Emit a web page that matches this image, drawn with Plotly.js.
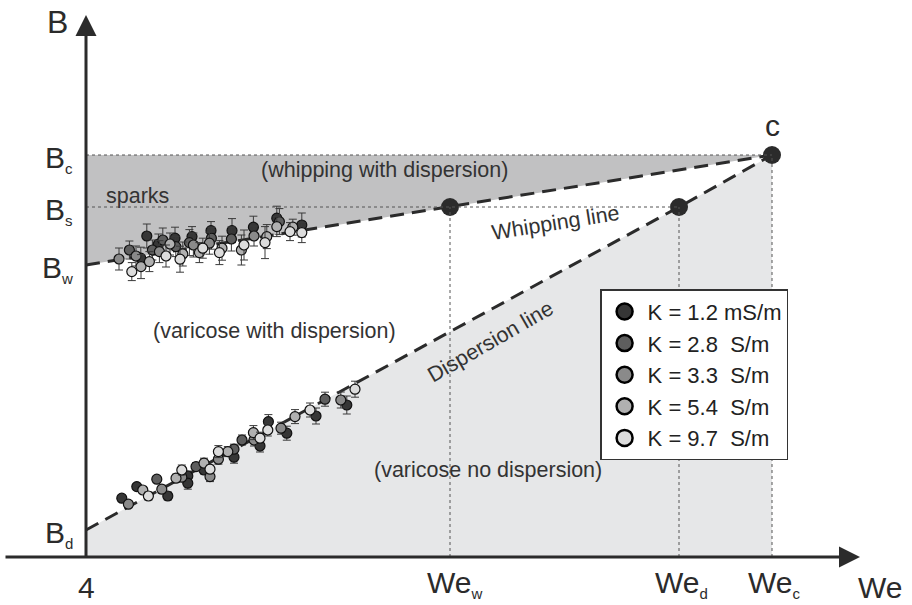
<!DOCTYPE html>
<html>
<head>
<meta charset="utf-8">
<script src="https://cdn.plot.ly/plotly-3.0.1.min.js"></script>
<style>
  html, body { margin: 0; padding: 0; background: #ffffff; }
  #chart { width: 912px; height: 605px; }
</style>
</head>
<body>
<div id="chart"></div>
<script>
// Characteristic Weber numbers (We) and B values of the regime map
const WE_0 = 4;
const WE_W = 22.2;
const WE_D = 33.65;
const WE_C = 38.3;
const B_D = 1.35;
const B_W = 14.6;
const B_S = 17.5;
const B_C = 20.1;

// Conductivity series
const seriesNames = ['K = 1.2 mS/m', 'K = 2.8 \u00a0S/m', 'K = 3.3 \u00a0S/m', 'K = 5.4 \u00a0S/m', 'K = 9.7 \u00a0S/m'];
const seriesColors = ['#363636', '#5e5e5e', '#8a8a8a', '#b0b0b0', '#dcdcdc'];

// Whipping-branch measurements (We, B, error)
const whipWe = [
  [6.74, 7.04, 7.62, 8.45, 9.3, 10.25, 11.3, 12.37, 13.54, 14.79],
  [6.17, 7.32, 7.84, 8.49, 9.17, 10.27, 11.27, 13.67],
  [5.65, 6.5, 7.67, 9.37, 10.17, 12.4],
  [6.75, 7.17, 8.2, 8.84, 9.67, 10.8, 11.77, 13.04, 13.54, 14.34],
  [6.29, 8.0, 8.7, 9.84, 10.67, 11.9, 12.95, 14.2, 14.79]
];
const whipB = [
  [14.94, 16.05, 15.65, 15.94, 16.02, 16.32, 16.32, 16.49, 16.94, 16.6],
  [15.35, 15.35, 15.85, 15.52, 15.72, 15.94, 15.9, 16.77],
  [14.9, 15.05, 15.27, 15.6, 15.69, 16.05],
  [14.52, 14.77, 15.65, 15.15, 15.22, 15.44, 15.35, 16.02, 16.52, 16.49],
  [14.27, 15.05, 14.89, 15.44, 15.22, 15.6, 15.72, 16.27, 16.22]
];
const whipErr = [
  [0.55, 0.6, 0.5, 0.55, 0.5, 0.45, 0.6, 0.55, 0.6, 0.6],
  [0.45, 0.5, 0.6, 0.5, 0.65, 0.55, 0.6, 0.65],
  [0.55, 0.5, 0.55, 0.6, 0.55, 0.5],
  [0.6, 0.5, 0.55, 0.6, 0.5, 0.6, 0.75, 0.6, 0.5, 0.4],
  [0.45, 0.55, 0.65, 0.5, 0.6, 0.75, 0.8, 0.45, 0.5]
];

// Dispersion-branch measurements (We, B, error)
const dispWe = [
  [5.79, 6.54, 8.09, 9.09, 9.09, 9.9, 11.4, 12.7, 13.12, 14.04, 15.5, 17.04],
  [7.54, 9.5, 11.4, 11.8, 15.95],
  [6.12, 7.79, 8.79, 10.2, 10.62, 12.4, 13.75, 16.74],
  [6.84, 8.5, 9.9, 11.09, 12.37, 14.45],
  [7.12, 8.79, 10.2, 10.62, 12.7, 13.09, 15.2, 17.45]
];
const dispB = [
  [2.94, 3.52, 3.05, 4.05, 3.69, 4.35, 4.99, 5.55, 6.77, 6.19, 7.05, 7.6],
  [3.89, 4.52, 5.39, 5.85, 7.89],
  [2.64, 3.39, 3.99, 4.02, 4.89, 5.85, 6.44, 7.85],
  [3.35, 3.94, 4.69, 5.27, 6.22, 7.02],
  [3.05, 4.35, 4.39, 5.27, 5.94, 6.35, 7.35, 8.39]
];
const dispErr = [
  [0.15, 0.15, 0.2, 0.25, 0.3, 0.2, 0.3, 0.3, 0.35, 0.35, 0.4, 0.45],
  [0.15, 0.2, 0.25, 0.25, 0.35],
  [0.15, 0.2, 0.2, 0.25, 0.25, 0.3, 0.3, 0.4],
  [0.15, 0.2, 0.25, 0.25, 0.35, 0.35],
  [0.2, 0.25, 0.2, 0.3, 0.3, 0.3, 0.35, 0.4]
];

const INK = '#2b2b2b';
const FONT = '"Liberation Sans", Arial, Helvetica, sans-serif';

const traces = [];

// Shaded regimes
traces.push({
  x: [WE_0, WE_D, WE_C, WE_C, WE_0],
  y: [B_D, B_S, B_C, 0, 0],
  mode: 'lines', fill: 'toself', fillcolor: '#e6e7e8',
  line: { width: 0 }, showlegend: false, hoverinfo: 'skip'
});
traces.push({
  x: [WE_0, WE_C, WE_W, WE_0],
  y: [B_C, B_C, B_S, B_W],
  mode: 'lines', fill: 'toself', fillcolor: '#c1c1c2',
  line: { width: 0 }, showlegend: false, hoverinfo: 'skip'
});

// Whipping and dispersion lines
traces.push({
  x: [WE_0, WE_W, WE_C], y: [B_W, B_S, B_C],
  mode: 'lines', line: { color: INK, width: 3, dash: '14px,8px' },
  showlegend: false, hoverinfo: 'skip'
});
traces.push({
  x: [WE_0, WE_D, WE_C], y: [B_D, B_S, B_C],
  mode: 'lines', line: { color: INK, width: 3, dash: '14px,8px' },
  showlegend: false, hoverinfo: 'skip'
});

// Measured points with error bars
for (let i = 0; i < seriesNames.length; i++) {
  traces.push({
    x: whipWe[i].concat(dispWe[i]),
    y: whipB[i].concat(dispB[i]),
    mode: 'markers',
    name: seriesNames[i],
    showlegend: false,
    error_y: { type: 'data', array: whipErr[i].concat(dispErr[i]), color: '#3a3a3a', thickness: 1, width: 4 },
    marker: { size: 10, color: seriesColors[i], line: { color: '#111111', width: 1.2 } }
  });
}

// Characteristic points
traces.push({
  x: [WE_W, WE_D, WE_C], y: [B_S, B_S, B_C],
  mode: 'markers', marker: { size: 18, color: INK },
  showlegend: false, hoverinfo: 'skip'
});

// Legend entries
for (let i = 0; i < seriesNames.length; i++) {
  traces.push({
    x: [null], y: [null], mode: 'markers', name: seriesNames[i],
    legendgroup: 'g' + i,
    marker: { size: 16, color: seriesColors[i], line: { color: '#000000', width: 2.5 } }
  });
}

const dotted = { color: '#555555', width: 1, dash: 'dot' };
const shapes = [
  { type: 'line', xref: 'x', yref: 'y', x0: WE_0, x1: WE_C, y0: B_C, y1: B_C, line: dotted, layer: 'above' },
  { type: 'line', xref: 'x', yref: 'y', x0: WE_0, x1: WE_D, y0: B_S, y1: B_S, line: dotted, layer: 'above' },
  { type: 'line', xref: 'x', yref: 'y', x0: WE_W, x1: WE_W, y0: 0, y1: B_S, line: dotted, layer: 'above' },
  { type: 'line', xref: 'x', yref: 'y', x0: WE_D, x1: WE_D, y0: 0, y1: B_S, line: dotted, layer: 'above' },
  { type: 'line', xref: 'x', yref: 'y', x0: WE_C, x1: WE_C, y0: 0, y1: B_C, line: dotted, layer: 'above' }
];

function sub(main, s) {
  return main + '<sub><span style="font-size:15px">' + s + '</span></sub>';
}

const big = { family: FONT, size: 30, color: INK };
const mid = { family: FONT, size: 21.5, color: '#333333' };

const annotations = [
  // axes with arrowheads
  { x: 42.7, y: 0, ax: -0.1, ay: 0, xref: 'x', yref: 'y', axref: 'x', ayref: 'y',
    text: '', showarrow: true, arrowhead: 2, arrowsize: 1.4, arrowwidth: 3, arrowcolor: INK },
  { x: WE_0, y: 27.1, ax: WE_0, ay: -0.05, xref: 'x', yref: 'y', axref: 'x', ayref: 'y',
    text: '', showarrow: true, arrowhead: 2, arrowsize: 1.4, arrowwidth: 3, arrowcolor: INK },

  // axis labels
  { x: 2.55, y: 26.75, xref: 'x', yref: 'y', text: 'B', showarrow: false, font: { family: FONT, size: 32, color: INK } },
  { x: 43.7, y: -1.5, xref: 'x', yref: 'y', text: 'We', showarrow: false, font: { family: FONT, size: 30, color: INK } },

  // We ticks
  { x: WE_0, y: -1.5, xref: 'x', yref: 'y', text: '4', showarrow: false, font: big },
  { x: WE_W, y: -1.5, xref: 'x', yref: 'y', text: sub('We', 'w'), showarrow: false, font: big, xshift: 4, yshift: 3 },
  { x: WE_D, y: -1.5, xref: 'x', yref: 'y', text: sub('We', 'd'), showarrow: false, font: big, xshift: 2, yshift: 3 },
  { x: WE_C, y: -1.5, xref: 'x', yref: 'y', text: sub('We', 'c'), showarrow: false, font: big, xshift: 2, yshift: 3 },

  // B ticks
  { x: WE_0, y: B_C, xref: 'x', yref: 'y', text: sub('B', 'c'), showarrow: false, font: big, xanchor: 'right', xshift: -11, yshift: -4 },
  { x: WE_0, y: B_S, xref: 'x', yref: 'y', text: sub('B', 's'), showarrow: false, font: big, xanchor: 'right', xshift: -11, yshift: -4 },
  { x: WE_0, y: B_W, xref: 'x', yref: 'y', text: sub('B', 'w'), showarrow: false, font: big, xanchor: 'right', xshift: -11, yshift: -4 },
  { x: WE_0, y: B_D, xref: 'x', yref: 'y', text: sub('B', 'd'), showarrow: false, font: big, xanchor: 'right', xshift: -11, yshift: -4 },

  // critical point
  { x: WE_C, y: B_C, xref: 'x', yref: 'y', text: 'c', showarrow: false, font: { family: FONT, size: 30, color: INK }, yshift: 30 },

  // regime labels
  { x: 18.9, y: 19.35, xref: 'x', yref: 'y', text: '(whipping with dispersion)', showarrow: false, font: mid },
  { x: 6.55, y: 18.05, xref: 'x', yref: 'y', text: 'sparks', showarrow: false, font: mid },
  { x: 13.4, y: 11.3, xref: 'x', yref: 'y', text: '(varicose with dispersion)', showarrow: false, font: mid },
  { x: 24.1, y: 4.35, xref: 'x', yref: 'y', text: '(varicose no dispersion)', showarrow: false, font: mid },
  { x: 27.45, y: 16.7, xref: 'x', yref: 'y', text: 'Whipping line', showarrow: false, font: mid, textangle: -9 },
  { x: 24.2, y: 10.75, xref: 'x', yref: 'y', text: 'Dispersion line', showarrow: false, font: mid, textangle: -30 }
];

const layout = {
  width: 912, height: 605,
  margin: { l: 0, r: 0, t: 0, b: 0 },
  paper_bgcolor: '#ffffff', plot_bgcolor: '#ffffff',
  font: { family: FONT, color: INK },
  xaxis: { range: [-0.3, 45.3], visible: false, fixedrange: true },
  yaxis: { range: [-2.4, 27.85], visible: false, fixedrange: true },
  showlegend: true,
  legend: {
    x: 0.658, y: 0.522, xanchor: 'left', yanchor: 'top',
    bgcolor: '#ffffff', bordercolor: '#333333', borderwidth: 1.5,
    font: { family: FONT, size: 22, color: '#222222' },
    traceorder: 'grouped', tracegroupgap: 0, itemsizing: 'trace', itemwidth: 36
  },
  shapes: shapes,
  annotations: annotations,
  hovermode: false
};

Plotly.newPlot('chart', traces, layout, { staticPlot: true, displayModeBar: false });
</script>
</body>
</html>
